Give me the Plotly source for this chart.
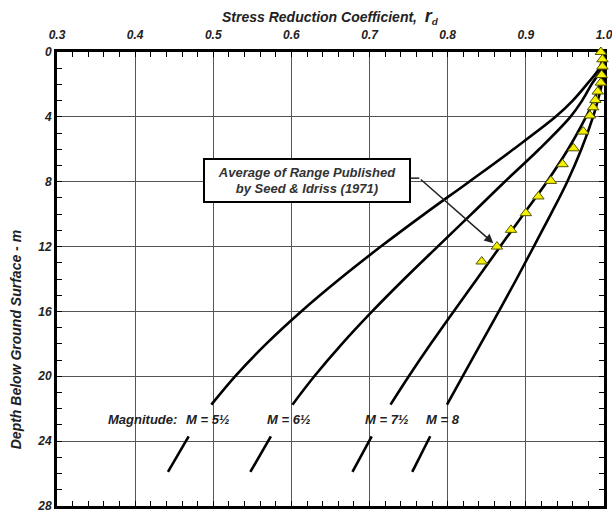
import plotly.graph_objects as go

# ---------------- data ----------------
depth = [0, 1, 2, 3, 4, 6, 8, 10, 12, 14, 16, 18, 20, 21.75]
rd_m55 = [1.0, 0.994, 0.978, 0.960, 0.938, 0.884, 0.8275, 0.7700, 0.7144, 0.6617, 0.6125, 0.5677, 0.5279, 0.4975]
rd_m65 = [1.0, 0.997, 0.984, 0.972, 0.957, 0.917, 0.8730, 0.8303, 0.7871, 0.7443, 0.7033, 0.6647, 0.6293, 0.6013]
rd_m75 = [1.0, 1.0, 0.994, 0.987, 0.977, 0.954, 0.9270, 0.8970, 0.8671, 0.8374, 0.8076, 0.7783, 0.7502, 0.7268]
rd_m80 = [1.0, 1.0, 0.997, 0.992, 0.986, 0.971, 0.9530, 0.9320, 0.9101, 0.8881, 0.8654, 0.8422, 0.8191, 0.7991]

seg_depth = [23.7, 25.9]
seg_m55 = [0.4685, 0.4420]
seg_m65 = [0.5737, 0.5474]
seg_m75 = [0.7027, 0.6781]
seg_m80 = [0.7776, 0.7546]

tri_depth = [0.0, 0.45, 0.9, 1.42, 1.89, 2.44, 2.96, 3.41, 3.92, 4.91, 5.94, 6.92, 7.95, 8.91, 9.94, 10.97, 12.0, 12.92]
tri_rd = [0.996, 0.998, 0.998, 0.997, 0.996, 0.992, 0.989, 0.986, 0.982, 0.9735, 0.961, 0.947, 0.932, 0.916, 0.900, 0.881, 0.863, 0.8435]

x_tickvals = [0.3, 0.4, 0.5, 0.6, 0.7, 0.8, 0.9, 1.0]
x_ticktext = ["0.3", "0.4", "0.5", "0.6", "0.7", "0.8", "0.9", "1.0"]
y_tickvals = [0, 4, 8, 12, 16, 20, 24, 28]
y_ticktext = ["0", "4", "8", "12", "16", "20", "24", "28"]

mag_labels = ["Magnitude:", "M = 5½", "M = 6½", "M = 7½", "M = 8"]
mag_label_x = [0.4094, 0.4932, 0.5969, 0.7217, 0.7946]
mag_label_y = 22.67

FONT = "Liberation Sans, Arial, sans-serif"

fig = go.Figure()

for rd in [rd_m55, rd_m65, rd_m75, rd_m80]:
    fig.add_trace(go.Scatter(x=rd, y=depth, mode="lines",
                             line=dict(color="black", width=2.6, shape="spline", smoothing=1.0),
                             hoverinfo="skip"))
for seg in [seg_m55, seg_m65, seg_m75, seg_m80]:
    fig.add_trace(go.Scatter(x=seg, y=seg_depth, mode="lines",
                             line=dict(color="black", width=2.6), hoverinfo="skip"))

# elbow part of the leader line (box edge -> bend)
fig.add_trace(go.Scatter(x=[0.7518, 0.7637], y=[7.78, 7.78], mode="lines",
                         line=dict(color="#222", width=1.5), hoverinfo="skip"))

fig.add_trace(go.Scatter(x=tri_rd, y=tri_depth, mode="markers",
                         marker=dict(symbol="triangle-up", size=10, color="#f5f000",
                                     line=dict(color="#555500", width=1)),
                         cliponaxis=False, hoverinfo="skip"))

tickfont = dict(family=FONT, size=12, color="#222", weight="bold", style="italic")

fig.update_xaxes(range=[0.3, 1.0], side="top", tickmode="array",
                 tickvals=x_tickvals, ticktext=x_ticktext, tickfont=tickfont,
                 showgrid=True, gridcolor="#555", gridwidth=1,
                 ticks="inside", ticklen=5, tickwidth=1, tickcolor="black",
                 ticklabelstandoff=5, ticklabeloverflow="allow",
                 minor=dict(tickmode="linear", tick0=0.3, dtick=0.02, ticks="inside",
                            ticklen=5, tickwidth=1, tickcolor="black", showgrid=False),
                 showline=True, linewidth=3, linecolor="black", mirror="allticks",
                 zeroline=False, layer="below traces", automargin=False)
fig.update_yaxes(range=[28, 0], tickmode="array",
                 tickvals=y_tickvals, ticktext=y_ticktext, tickfont=tickfont,
                 showgrid=True, gridcolor="#555", gridwidth=1,
                 ticks="inside", ticklen=5, tickwidth=1, tickcolor="black",
                 ticklabeloverflow="allow",
                 minor=dict(tickmode="linear", tick0=0, dtick=1, ticks="inside",
                            ticklen=5, tickwidth=1, tickcolor="black", showgrid=False),
                 showline=True, linewidth=3, linecolor="black", mirror="allticks",
                 zeroline=False, layer="below traces", automargin=False)

annots = []
for t, x in zip(mag_labels, mag_label_x):
    annots.append(dict(x=x, y=mag_label_y, xref="x", yref="y", text=t, showarrow=False,
                       font=dict(family=FONT, size=13, color="#222", weight="bold", style="italic")))

annots.append(dict(x=0.6193, y=7.95, xref="x", yref="y",
                   text="Average of Range Published<br>by Seed &amp; Idriss (1971)",
                   showarrow=False, bgcolor="white", bordercolor="black", borderwidth=2,
                   borderpad=1, width=202, height=39, align="center",
                   font=dict(family=FONT, size=13, color="#333", weight="bold", style="italic")))

annots.append(dict(x=0.8584, y=11.79, xref="x", yref="y", ax=0.7637, ay=7.78,
                   axref="x", ayref="y", text="", showarrow=True, arrowhead=2,
                   arrowsize=1.2, arrowwidth=1.5, arrowcolor="#222", standoff=0, startstandoff=0))

annots.append(dict(x=-0.076, y=0.366, xref="paper", yref="paper", xanchor="center", yanchor="middle",
                   text="Depth Below Ground Surface - m", textangle=-90, showarrow=False,
                   font=dict(family=FONT, size=14, color="#222", weight="bold", style="italic")))

annots.append(dict(x=0.5, y=1.079, xref="paper", yref="paper", xanchor="center", yanchor="middle",
                   text="Stress Reduction Coefficient,  <span style='font-size:18px'>r</span><sub>d</sub>",
                   showarrow=False,
                   font=dict(family=FONT, size=14, color="#222", weight="bold", style="italic")))

fig.update_layout(width=612, height=512, margin=dict(l=57, r=8, t=52, b=6),
                  plot_bgcolor="white", paper_bgcolor="white", showlegend=False,
                  annotations=annots)

fig.write_html("out.html")
